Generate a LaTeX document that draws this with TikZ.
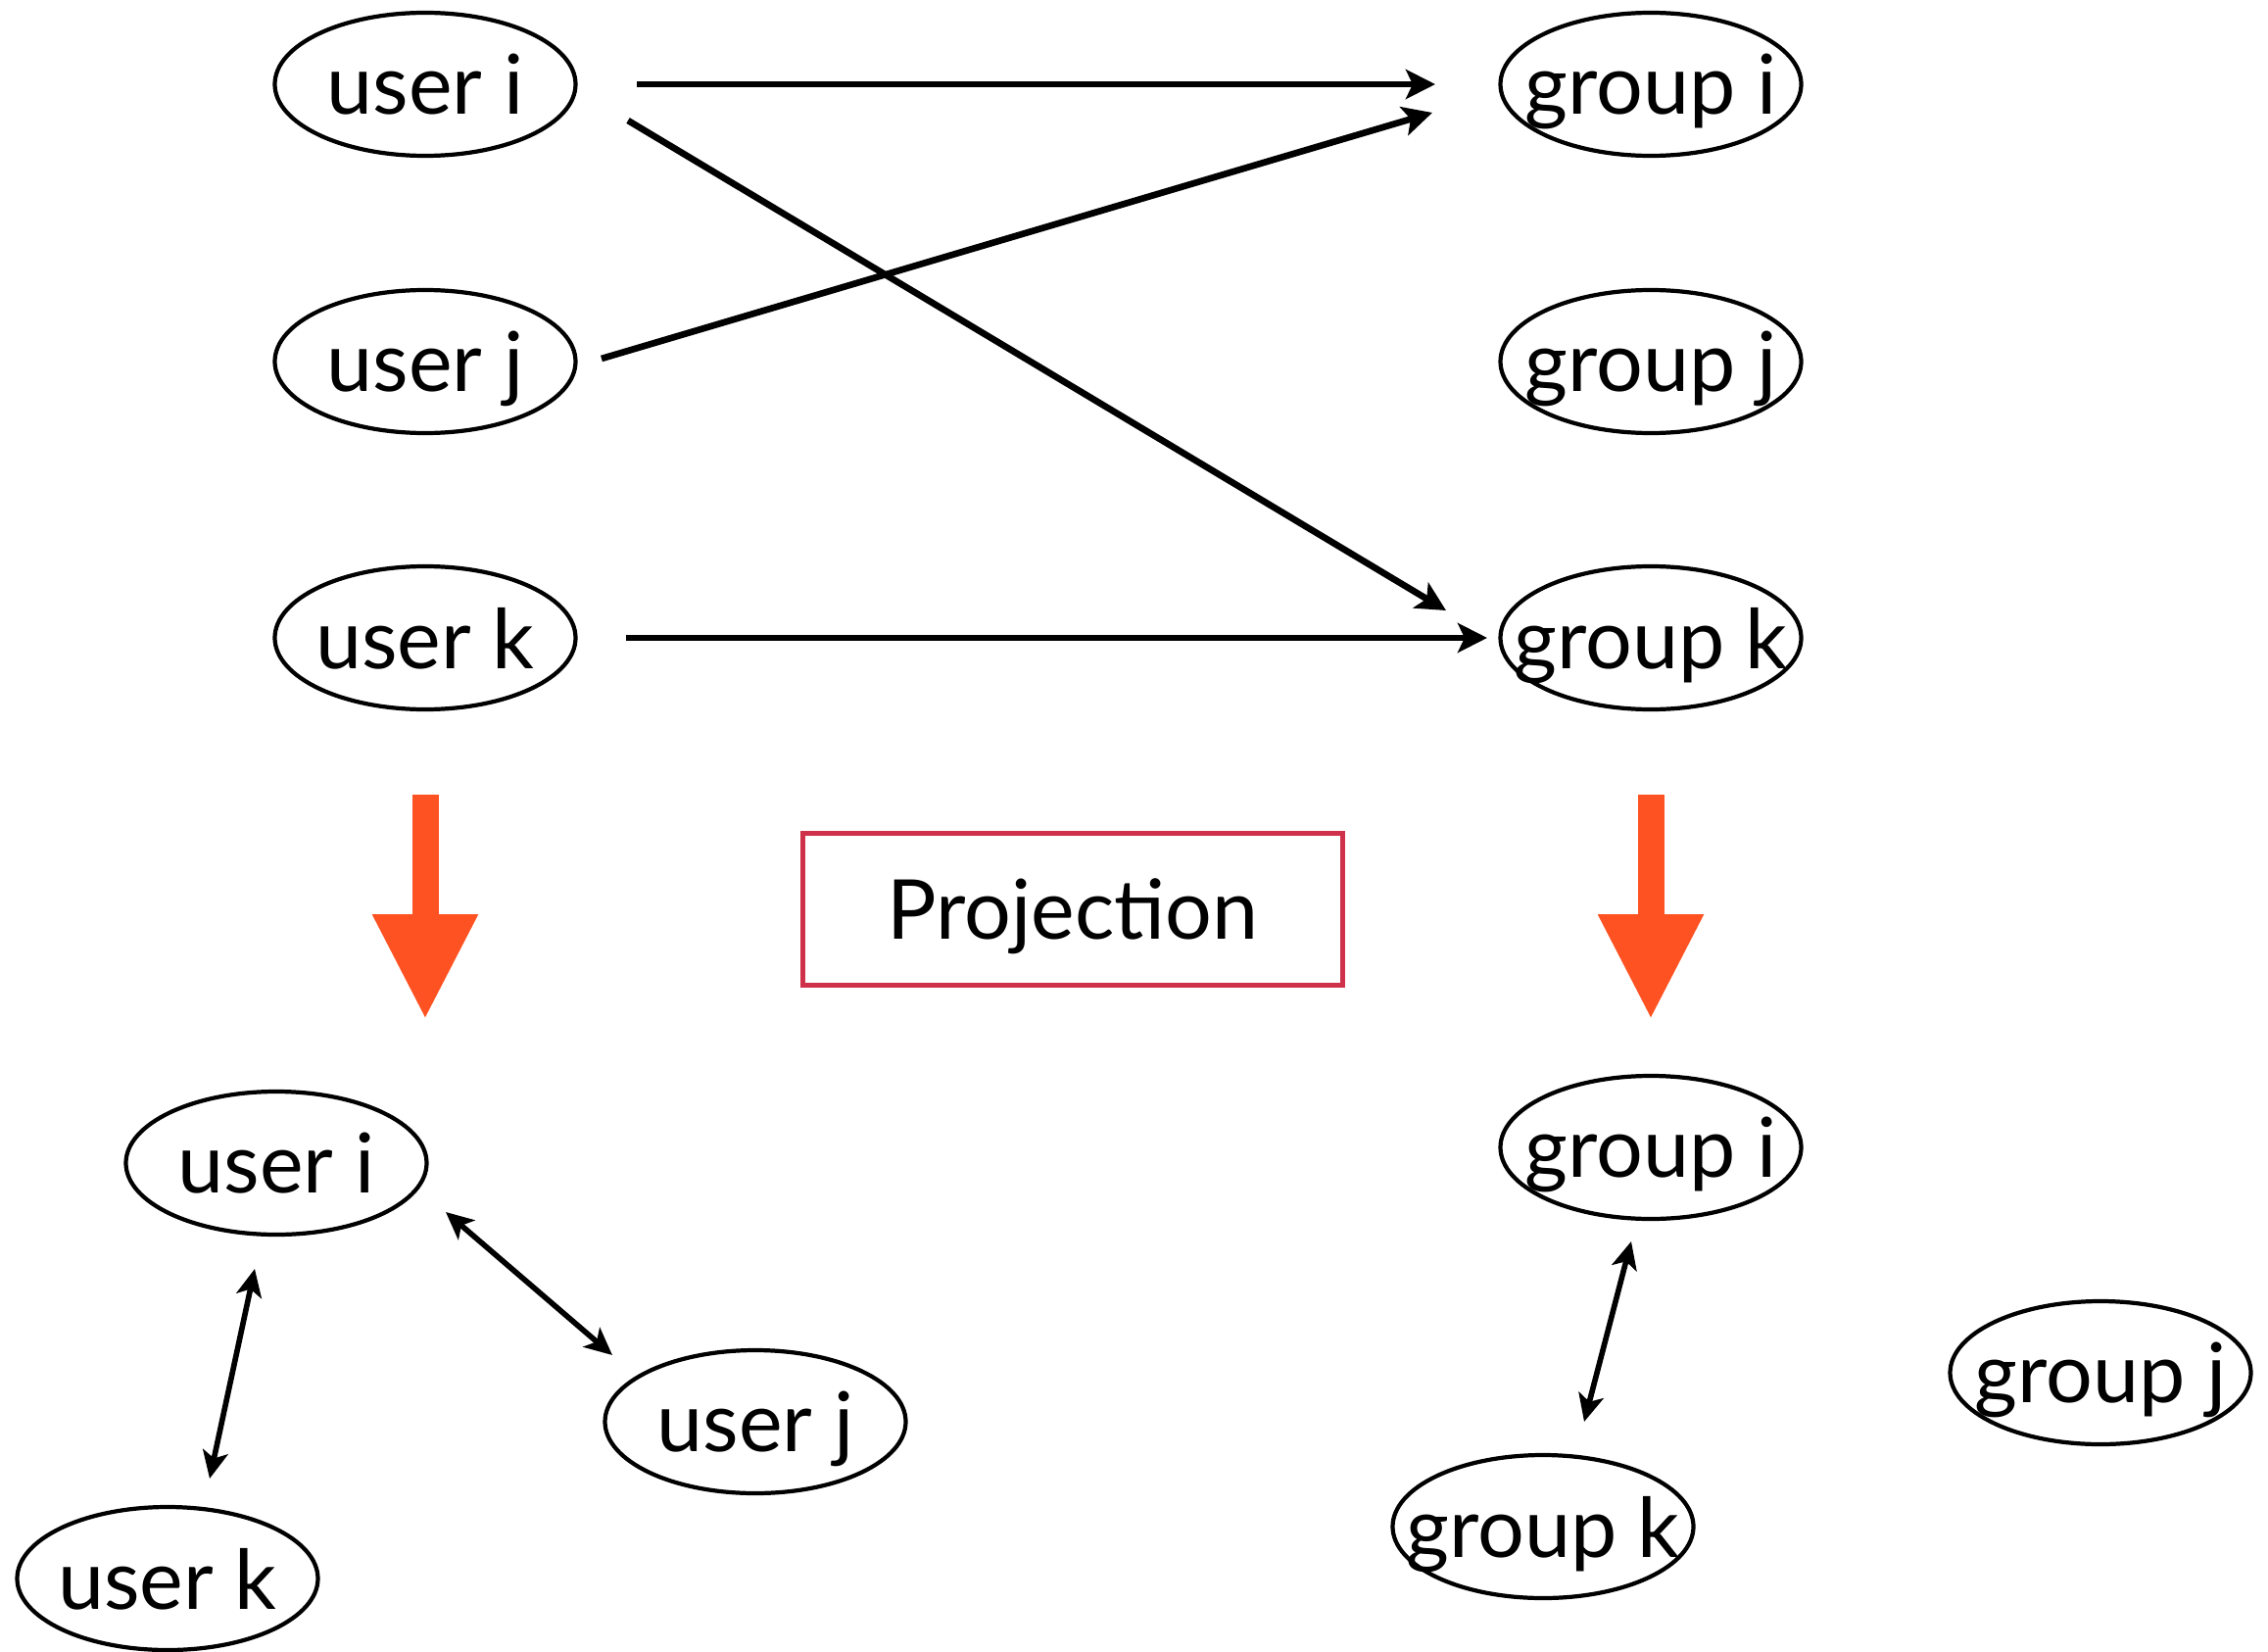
\documentclass[tikz,border=0pt]{standalone}
\usepackage{fontspec}
\setmainfont{Lato}
\usetikzlibrary{arrows.meta, shapes.geometric, calc}

\definecolor{projred}{HTML}{D0314A}
\definecolor{projorange}{HTML}{FF5222}

\begin{document}
\begin{tikzpicture}

\useasboundingbox (0, 0) rectangle (23.15, -16.86);

\begin{scope}[every node/.style={ellipse,draw,line width=1.2pt,minimum width=3.07cm,minimum height=1.46cm,inner ysep=0pt,inner xsep=-0.45cm,text depth=0pt,font=\fontsize{24}{28}\selectfont}]
    \node (ui) at (4.34, -0.86) [shape=ellipse] {user i};
    \node (uj) at (4.34, -3.69) [shape=ellipse] {user j};
    \node (uk) at (4.34, -6.51) [shape=ellipse] {user k};

    \node (gi) at (16.85, -0.86) [shape=ellipse] {group i};
    \node (gj) at (16.85, -3.69) [shape=ellipse] {group j};
    \node (gk) at (16.85, -6.51) [shape=ellipse] {group k};

    \node (bui) at (2.82, -11.87) [shape=ellipse] {user i};
    \node (buj) at (7.71, -14.51) [shape=ellipse] {user j};
    \node (buk) at (1.71, -16.11) [shape=ellipse] {user k};

    \node (bgi) at (16.85, -11.71) [shape=ellipse] {group i};
    \node (bgk) at (15.75, -15.58) [shape=ellipse] {group k};
    \node (bgj) at (21.44, -14.01) [shape=ellipse] {group j};
\end{scope}

\node (proj) at (10.95, -9.28) [draw=projred, line width=1.2pt, minimum width=5.51cm, minimum height=1.55cm, text depth=0pt, font=\fontsize{24}{28}\selectfont] {Projection};

\begin{scope}[>={Stealth[length=0.3cm, width=0.3cm, inset=0.07cm]},
              every edge/.style={draw=black, line width=1.9pt}]
    \path [->] ($(ui)+(2.16, 0)$) edge node {} ($(gi)+(-2.20, 0)$);
    \path [->] ($(ui)+(2.07, -0.37)$) edge node {} ($(gk)+(-2.09, 0.28)$);
    \path [->] ($(uj)+(1.80, 0.03)$) edge node {} ($(gi)+(-2.23, -0.29)$);
    \path [->] ($(uk)+(2.05, 0)$) edge node {} ($(gk)+(-1.67, 0)$);
\end{scope}

\begin{scope}[>={Stealth[length=0.28cm, width=0.26cm, inset=0.07cm]},
              every edge/.style={draw=black, line width=1.6pt}]
    \path [<->] ($(bui)+(1.73, -0.50)$) edge node {} ($(buj)+(-1.46, 0.68)$);
    \path [<->] ($(bui)+(-0.22, -1.08)$) edge node {} ($(buk)+(0.43, 1.02)$);
    \path [<->] ($(bgi)+(-0.20, -0.96)$) edge node {} ($(bgk)+(0.42, 1.07)$);
\end{scope}

\begin{scope}[>={Triangle[length=1.08cm, width=1.0cm, projorange]},
              every edge/.style={draw=projorange, line width=0.27cm}]
    \path [->] ($(uk)+(0, -1.60)$) edge node {} ($(uk)+(0, -3.90)$);
    \path [->] ($(gk)+(0, -1.60)$) edge node {} ($(gk)+(0, -3.90)$);
\end{scope}

\end{tikzpicture}
\end{document}
